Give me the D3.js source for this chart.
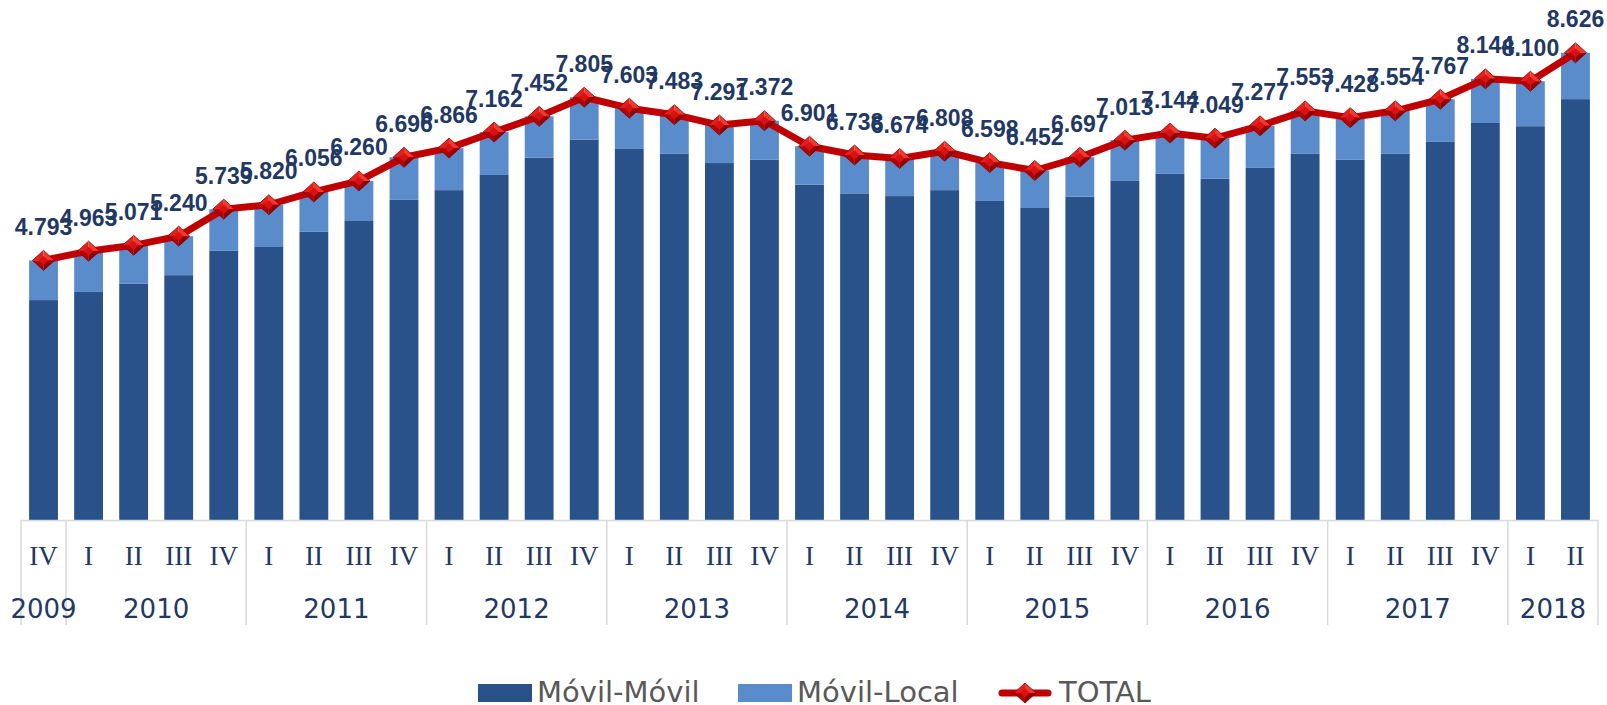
<!DOCTYPE html>
<html>
<head>
<meta charset="utf-8">
<script src="https://cdn.jsdelivr.net/npm/d3@7"></script>
<style>
  body { margin: 0; background: #fff; }
  svg { display: block; }
  .val { font-family: "Liberation Sans", Arial, sans-serif; font-weight: 700; font-size: 23px; fill: #1F3864; }
  .quarter text { font-family: "Liberation Serif", serif; font-size: 27px; fill: #1F3864; }
  .year { font-family: "DejaVu Sans", sans-serif; font-size: 26px; fill: #1F3864; }
  .legend-text { font-family: "DejaVu Sans", sans-serif; font-size: 29px; fill: #595959; }
</style>
</head>
<body>
<script>
// data
var quarters = ["IV",
  "I","II","III","IV", "I","II","III","IV", "I","II","III","IV", "I","II","III","IV",
  "I","II","III","IV", "I","II","III","IV", "I","II","III","IV", "I","II","III","IV",
  "I","II"];
var years = ["2009","2010","2011","2012","2013","2014","2015","2016","2017","2018"];
var yearCounts = [1,4,4,4,4,4,4,4,4,2];

var totals = [4.793,4.963,5.071,5.240,5.739,5.820,6.056,6.260,6.696,6.866,7.162,7.452,7.805,
  7.603,7.483,7.291,7.372,6.901,6.738,6.674,6.808,6.598,6.452,6.697,7.013,7.144,7.049,
  7.277,7.553,7.428,7.554,7.767,8.144,8.100,8.626];
var movilMovil = [4.06,4.21,4.36,4.52,4.97,5.04,5.32,5.52,5.91,6.09,6.37,6.69,7.02,
  6.85,6.76,6.59,6.65,6.19,6.03,5.98,6.09,5.89,5.76,5.97,6.26,6.39,6.30,
  6.50,6.76,6.65,6.76,6.98,7.33,7.27,7.77];
var movilLocal = [0.733,0.753,0.711,0.720,0.769,0.780,0.736,0.740,0.786,0.776,0.792,0.762,0.785,
  0.753,0.723,0.701,0.722,0.711,0.708,0.694,0.718,0.708,0.692,0.727,0.753,0.754,0.749,
  0.777,0.793,0.778,0.794,0.787,0.814,0.830,0.856];

var seriesNames = ["Móvil-Móvil", "Móvil-Local", "TOTAL"];
var colors = ["#29528A", "#5A8BCB", "#C00000"];

var width = 1607, height = 705;
var left = 21, right = 1598, baseY = 520;

var svg = d3.select("body").append("svg")
  .attr("width", width)
  .attr("height", height);

var xScale = d3.scaleBand()
  .domain(d3.range(totals.length))
  .range([left, right])
  .paddingInner(0.36)
  .paddingOuter(0.18);

var yScale = d3.scaleLinear()
  .domain([0, 9.6])
  .range([baseY, 0]);

var rows = totals.map(function(t, i) {
  return { i: i, mm: movilMovil[i], ml: movilLocal[i], total: t };
});
var stacked = d3.stack().keys(["mm", "ml"])(rows);

svg.append("g").selectAll("g")
  .data(stacked)
  .enter().append("g")
  .attr("fill", function(d, k) { return colors[k]; })
  .selectAll("rect")
  .data(function(d) { return d; })
  .enter().append("rect")
  .attr("x", function(d) { return xScale(d.data.i); })
  .attr("y", function(d) { return yScale(d[1]); })
  .attr("width", xScale.bandwidth())
  .attr("height", function(d) { return yScale(d[0]) - yScale(d[1]); });

// category axis, two levels
var cx = function(i) { return xScale(i) + xScale.bandwidth() / 2; };
var step = xScale.step();

svg.append("line")
  .attr("x1", left).attr("x2", right)
  .attr("y1", baseY + 0.5).attr("y2", baseY + 0.5)
  .attr("stroke", "#D9D9D9").attr("stroke-width", 1.5);

var qAxis = d3.axisBottom(xScale)
  .tickSize(0)
  .tickPadding(0)
  .tickFormat(function(i) { return quarters[i]; });

svg.append("g")
  .attr("class", "quarter")
  .attr("transform", "translate(0," + (baseY + 26) + ")")
  .call(qAxis)
  .call(function(g) { g.select(".domain").remove(); });

var bounds = [0];
yearCounts.forEach(function(c, k) { bounds.push(bounds[k] + c); });

svg.append("g").selectAll("line")
  .data(bounds)
  .enter().append("line")
  .attr("x1", function(b) { return left + b * step; })
  .attr("x2", function(b) { return left + b * step; })
  .attr("y1", baseY)
  .attr("y2", 625)
  .attr("stroke", "#D9D9D9")
  .attr("stroke-width", 1.5);

svg.append("g").selectAll("text")
  .data(years)
  .enter().append("text")
  .attr("class", "year")
  .attr("x", function(y, k) { return left + (bounds[k] + bounds[k + 1]) / 2 * step; })
  .attr("y", 618)
  .attr("text-anchor", "middle")
  .text(function(y) { return y; });

// TOTAL line
var line = d3.line()
  .x(function(d, i) { return cx(i); })
  .y(function(d) { return yScale(d); });

svg.append("path")
  .datum(totals)
  .attr("d", line)
  .attr("fill", "none")
  .attr("stroke", colors[2])
  .attr("stroke-width", 7)
  .attr("stroke-linejoin", "round");

function diamond(g, x, y) {
  var w = 11, h = 10;
  var facets = [
    ["M", x, y, "L", x - w, y, "L", x, y - h, "Z", "#E3201C"],
    ["M", x, y, "L", x, y - h, "L", x + w, y, "Z", "#F2392E"],
    ["M", x, y, "L", x + w, y, "L", x, y + h, "Z", "#920000"],
    ["M", x, y, "L", x, y + h, "L", x - w, y, "Z", "#B00404"]
  ];
  facets.forEach(function(f) {
    g.append("path").attr("d", f.slice(0, 10).join(" ")).attr("fill", f[10]);
  });
  g.append("path")
    .attr("d", ["M", x - w * 0.45, y, "L", x, y - h * 0.45, "L", x + w * 0.45, y, "L", x, y + h * 0.45, "Z"].join(" "))
    .attr("fill", "#D81212");
  g.append("path")
    .attr("d", ["M", x - w, y, "L", x, y - h, "L", x + w, y, "L", x, y + h, "Z"].join(" "))
    .attr("fill", "none").attr("stroke", "#8A0000").attr("stroke-width", 0.8);
}

var markers = svg.append("g");
totals.forEach(function(t, i) { diamond(markers, cx(i), yScale(t)); });

svg.append("g").selectAll("text")
  .data(totals)
  .enter().append("text")
  .attr("class", "val")
  .attr("x", function(d, i) { return cx(i); })
  .attr("y", function(d) { return yScale(d) - 25.5; })
  .attr("text-anchor", "middle")
  .text(function(d) { return d3.format(".3f")(d); });

// legend
var legend = svg.append("g");
legend.append("rect").attr("x", 478).attr("y", 684).attr("width", 54).attr("height", 18).attr("fill", colors[0]);
legend.append("text").attr("class", "legend-text").attr("x", 537).attr("y", 702).text(seriesNames[0]);
legend.append("rect").attr("x", 738).attr("y", 684).attr("width", 54).attr("height", 18).attr("fill", colors[1]);
legend.append("text").attr("class", "legend-text").attr("x", 797).attr("y", 702).text(seriesNames[1]);
legend.append("line").attr("x1", 1002).attr("x2", 1048).attr("y1", 693).attr("y2", 693)
  .attr("stroke", colors[2]).attr("stroke-width", 7).attr("stroke-linecap", "round");
diamond(legend, 1025, 693);
legend.append("text").attr("class", "legend-text").attr("x", 1059).attr("y", 702).text(seriesNames[2]);
</script>
</body>
</html>
